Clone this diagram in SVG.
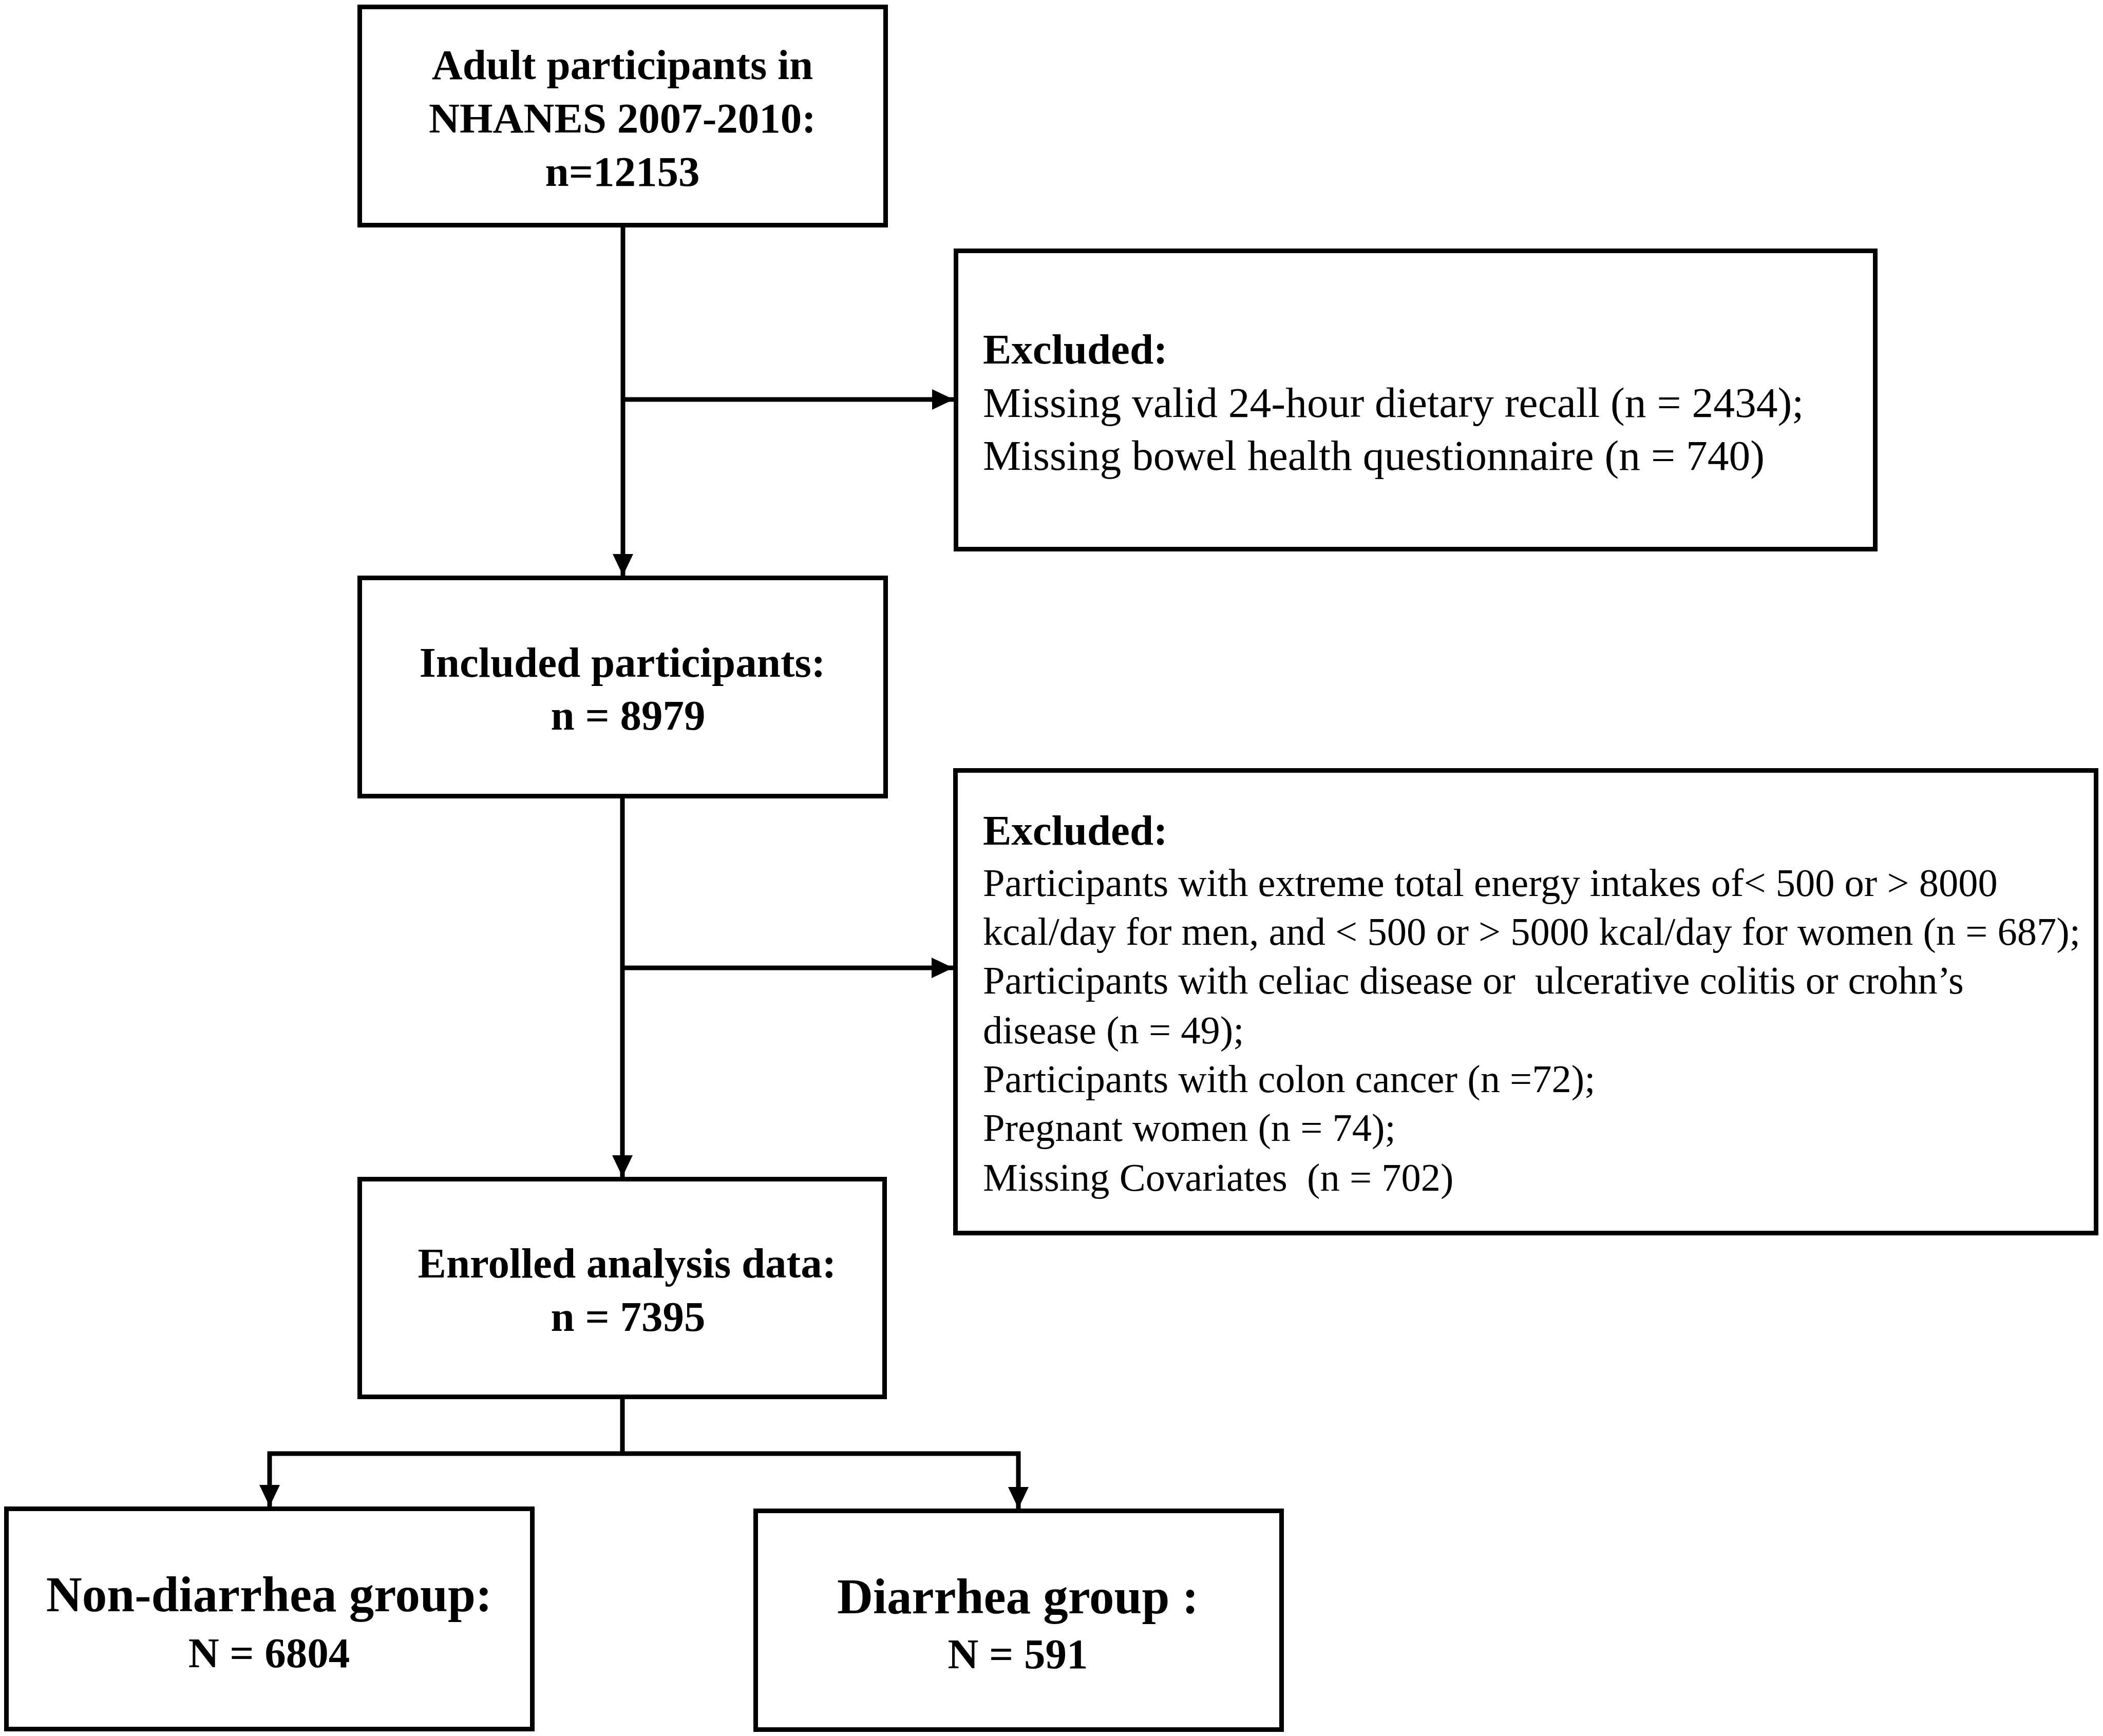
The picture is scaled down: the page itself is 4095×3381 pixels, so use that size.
<svg xmlns="http://www.w3.org/2000/svg" width="4095" height="3381" viewBox="0 0 4095 3381">
<style>
.box{fill:#ffffff;stroke:#000000;stroke-width:9}
.conn{fill:none;stroke:#000000;stroke-width:9;stroke-linejoin:miter;marker-end:url(#arrow)}
.line{fill:none;stroke:#000000;stroke-width:9}
text{font-family:"Liberation Serif","Times New Roman",serif;fill:#000000;white-space:pre}
.t{font-weight:bold;font-size:83px;text-anchor:middle}
.big{font-weight:bold;font-size:97px;text-anchor:middle}
.h{font-weight:bold;font-size:83px}
.r1{font-size:83.5px}
.r2{font-size:76.5px}
</style>
<defs>
<marker id="arrow" viewBox="0 0 42 40" markerWidth="42" markerHeight="40" markerUnits="userSpaceOnUse" refX="42" refY="20" orient="auto">
<path d="M0,0 L42,20 L0,40 Z" fill="#000000"/>
</marker>
</defs>
<rect x="0" y="0" width="4095" height="3381" fill="#ffffff"/>
<g id="connectors">
<path class="conn" d="M1213,443 V1121"/>
<path class="conn" d="M1213,778 H1857"/>
<path class="conn" d="M1212,1555 V2292"/>
<path class="conn" d="M1212,1885 H1856"/>
<path class="line" d="M1212,2725 V2831"/>
<path class="conn" d="M1212,2831 H525 V2934"/>
<path class="conn" d="M1212,2831 H1983 V2938"/>
</g>
<g id="node-adult">
<rect class="box" x="700.5" y="13.5" width="1024" height="425"/>
<text class="t" x="1212" y="154">Adult participants in</text>
<text class="t" x="1212" y="258">NHANES 2007-2010:</text>
<text class="t" x="1212" y="362">n=12153</text>
</g>
<g id="node-excluded1">
<rect class="box" x="1861.5" y="488.5" width="1790" height="581"/>
<text class="h" x="1914" y="708">Excluded:</text>
<text class="r1" x="1914" y="811.5">Missing valid 24-hour dietary recall (n = 2434);</text>
<text class="r1" x="1914" y="915">Missing bowel health questionnaire (n = 740)</text>
</g>
<g id="node-included">
<rect class="box" x="700.5" y="1125.5" width="1024" height="425"/>
<text class="t" x="1212" y="1318">Included participants:</text>
<text class="t" x="1223" y="1420.5">n = 8979</text>
</g>
<g id="node-excluded2">
<rect class="box" x="1860.5" y="1500.5" width="2221" height="901"/>
<text class="h" x="1914" y="1645">Excluded:</text>
<text class="r2" x="1914" y="1745">Participants with extreme total energy intakes of&lt; 500 or &gt; 8000</text>
<text class="r2" x="1914" y="1840">kcal/day for men, and &lt; 500 or &gt; 5000 kcal/day for women (n = 687);</text>
<text class="r2" x="1914" y="1935">Participants with celiac disease or  ulcerative colitis or crohn’s</text>
<text class="r2" x="1914" y="2031.5">disease (n = 49);</text>
<text class="r2" x="1914" y="2127">Participants with colon cancer (n =72);</text>
<text class="r2" x="1914" y="2222">Pregnant women (n = 74);</text>
<text class="r2" x="1914" y="2319">Missing Covariates  (n = 702)</text>
</g>
<g id="node-enrolled">
<rect class="box" x="700.5" y="2296.5" width="1022" height="424"/>
<text class="t" x="1221" y="2487.5">Enrolled analysis data:</text>
<text class="t" x="1223" y="2592">n = 7395</text>
</g>
<g id="node-nondiarrhea">
<rect class="box" x="12.5" y="2938.5" width="1024" height="429"/>
<text class="big" x="524" y="3138">Non-diarrhea group:</text>
<text class="t" x="524" y="3247">N = 6804</text>
</g>
<g id="node-diarrhea">
<rect class="box" x="1471.5" y="2942.5" width="1024" height="426"/>
<text class="big" x="1982" y="3141.5">Diarrhea group :</text>
<text class="t" x="1982" y="3249">N = 591</text>
</g>
</svg>
